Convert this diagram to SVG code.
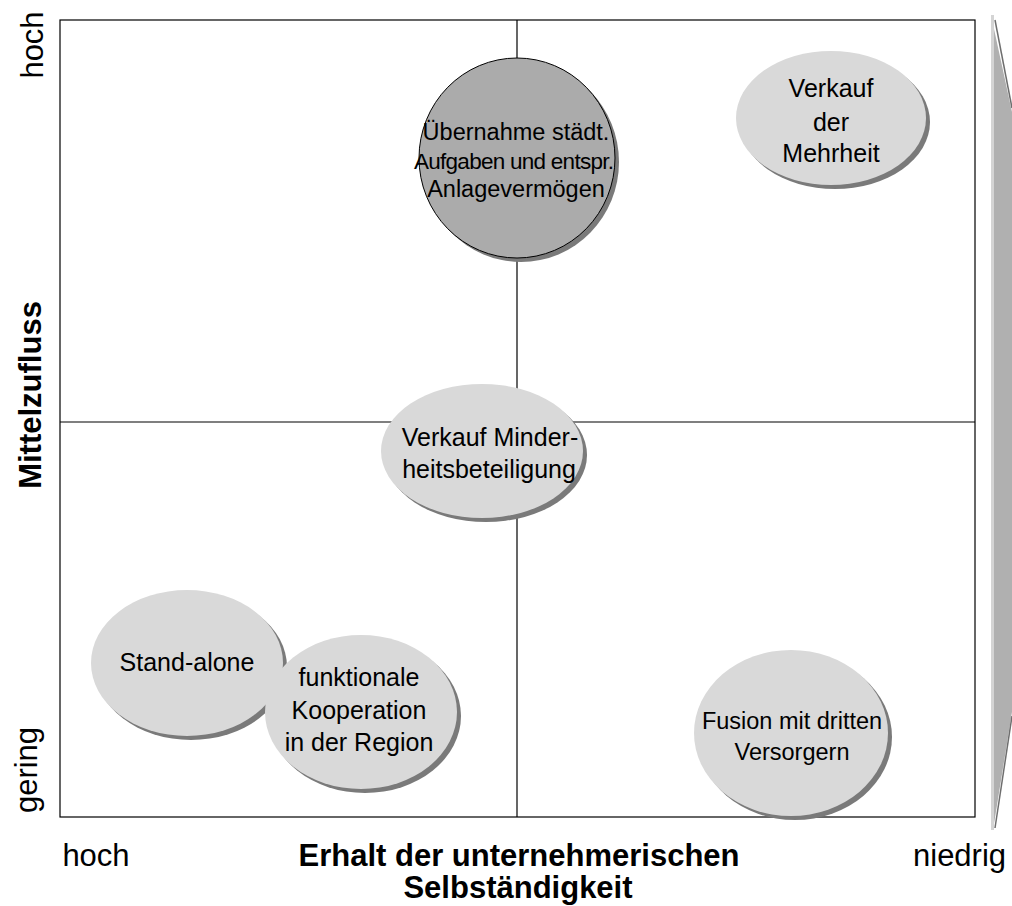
<svg xmlns="http://www.w3.org/2000/svg" width="1012" height="906" viewBox="0 0 1012 906">
<style>
text{font-family:"Liberation Sans",Arial,sans-serif;fill:#000;}
.t{font-size:25px;text-anchor:middle;}
.ts{font-size:23.5px;text-anchor:middle;}
.tm{font-size:22.5px;text-anchor:middle;}
.tf{font-size:23.5px;text-anchor:middle;}
.ax{font-size:31px;}
.b{font-size:31px;font-weight:bold;text-anchor:middle;}
.sh{fill:#7a7a7a;}
.el{fill:#d9d9d9;}
.dk{fill:#ababab;stroke:#000;stroke-width:1;}
.ln{stroke:#000;stroke-width:1.2;fill:none;}
</style>
<rect width="1012" height="906" fill="#fff"/>
<g id="arrow">
<polygon points="991,15 1012,112 1012,712 993,830" fill="#b0b0b0"/>
<polygon points="991,15 994,15 994,830 991,830" fill="#d4d4d4"/>
<line x1="995" y1="20" x2="1012" y2="108" stroke="#6e6e6e" stroke-width="1.5"/>
<line x1="1012" y1="716" x2="995" y2="828" stroke="#6e6e6e" stroke-width="1.5"/>
</g>
<g id="connectors">
<rect x="60" y="20" width="915" height="797" class="ln"/>
<line x1="517" y1="20" x2="517" y2="817" class="ln"/>
<line x1="60" y1="422" x2="975" y2="422" class="ln"/>
</g>
<g id="uebernahme">
<ellipse cx="521" cy="162" rx="98" ry="100" class="sh"/>
<ellipse cx="517" cy="158" rx="98" ry="100" class="dk"/>
<text class="ts" x="516" y="140">Übernahme städt.</text>
<text class="tm" x="514" y="169" textLength="200" lengthAdjust="spacing">Aufgaben und entspr.</text>
<text class="ts" x="516" y="197">Anlagevermögen</text>
</g>
<g id="verkauf-mehrheit">
<ellipse cx="835" cy="122" rx="95" ry="67" class="sh"/>
<ellipse cx="831" cy="118" rx="95" ry="67" class="el"/>
<text class="t" x="831" y="97">Verkauf</text>
<text class="t" x="831" y="131">der</text>
<text class="t" x="831" y="162">Mehrheit</text>
</g>
<g id="verkauf-minderheit">
<ellipse cx="486" cy="455" rx="101" ry="67" class="sh"/>
<ellipse cx="482" cy="451" rx="101" ry="67" class="el"/>
<text class="t" x="490" y="446">Verkauf Minder-</text>
<text class="t" x="489" y="478">heitsbeteiligung</text>
</g>
<g id="stand-alone">
<ellipse cx="191" cy="667" rx="96" ry="73" class="sh"/>
<ellipse cx="187" cy="663" rx="96" ry="73" class="el"/>
<text class="t" x="187" y="671">Stand-alone</text>
</g>
<g id="kooperation">
<ellipse cx="365" cy="716" rx="96" ry="77" class="sh"/>
<ellipse cx="361" cy="712" rx="96" ry="77" class="el"/>
<text class="t" x="359" y="686">funktionale</text>
<text class="t" x="359" y="719">Kooperation</text>
<text class="t" x="359" y="751">in der Region</text>
</g>
<g id="fusion">
<ellipse cx="795" cy="737" rx="97" ry="83" class="sh"/>
<ellipse cx="791" cy="733" rx="97" ry="83" class="el"/>
<text class="tf" x="792" y="729">Fusion mit dritten</text>
<text class="tf" x="792" y="760">Versorgern</text>
</g>
<g id="axis-labels">
<text class="ax" text-anchor="middle" transform="translate(43,45) rotate(-90)">hoch</text>
<text class="ax" text-anchor="middle" transform="translate(37,770) rotate(-90)">gering</text>
<text class="b" transform="translate(41,395) rotate(-90)">Mittelzufluss</text>
<text class="ax" text-anchor="middle" x="96" y="866">hoch</text>
<text class="ax" x="913" y="866">niedrig</text>
<text class="b" x="519" y="866">Erhalt der unternehmerischen</text>
<text class="b" x="518" y="898">Selbständigkeit</text>
</g>
</svg>
